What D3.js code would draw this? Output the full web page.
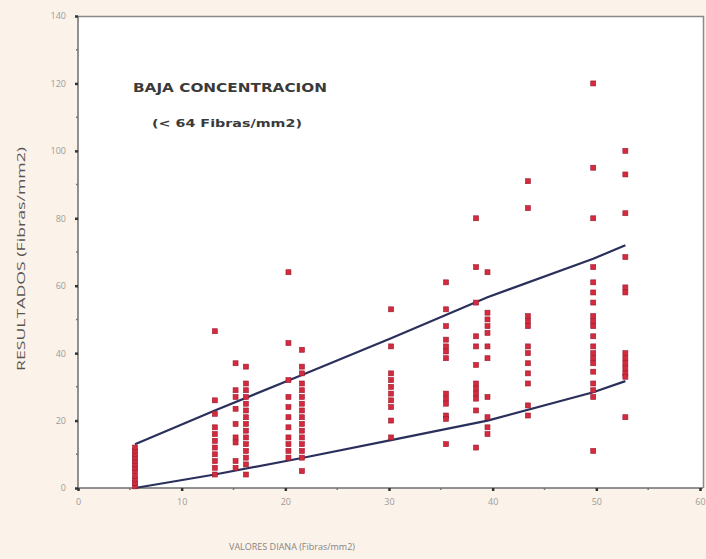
<!DOCTYPE html>
<html>
<head>
<meta charset="utf-8">
<script src="https://cdn.jsdelivr.net/npm/d3@7"></script>
<style>
  body { margin: 0; background: #fbf2ea; }
  svg { display: block; }
  .tick text { font-family: "Open Sans", sans-serif; font-size: 9px; fill: #a09a96; }
</style>
</head>
<body>
<div id="chart"></div>
<script>
// target values (x) of each column of results
var targets = [5.5, 13.2, 15.2, 16.2, 20.3, 21.6, 30.2, 35.5, 38.4, 39.5, 43.4, 49.7, 52.8];

// results read for each target, same order as targets
var results = [
  [0.5, 1.5, 2.5, 3.5, 5, 6, 7, 8, 9, 10, 11, 12],
  [46.5, 26, 22, 18, 16, 14, 12, 10, 8, 6, 4],
  [37, 29, 27, 23.5, 19, 15, 13.5, 8, 6],
  [36, 31, 29, 27, 25, 23, 21, 19, 17, 15, 13, 11, 9, 7, 4],
  [64, 43, 32, 27, 24, 21, 18, 15, 13, 11, 9],
  [41, 36, 34, 31, 29, 27, 25, 23, 21, 19, 17, 15, 13, 11, 9, 5],
  [53, 42, 34, 32, 30, 28, 26, 24, 20, 15],
  [61, 53, 48, 44, 42, 40.5, 38.5, 28, 26.5, 25, 21.5, 20.5, 13],
  [80, 65.5, 55, 45, 42, 36.5, 31, 29.5, 28, 26.5, 23, 12],
  [64, 52, 50, 48, 46, 42, 38.5, 27, 21, 18, 16],
  [91, 83, 51, 49.5, 48, 42, 40, 37, 34, 31, 24.5, 21.5],
  [120, 95, 80, 65.5, 61, 58, 55, 51, 49.5, 48, 45, 42, 40, 38.5, 37, 34.5, 31, 29, 27, 11],
  [100, 93, 81.5, 68.5, 59.5, 58, 40, 38.5, 37, 35.5, 34, 33, 21]
];

// acceptance limits read at some targets
var limitX = [5.5, 13.2, 21.6, 30.2, 39.5, 49.7, 52.8];
var upperLimit = [13, 23, 33.5, 44.4, 56.6, 68, 72];
var lowerLimit = [0, 4, 8.9, 14.2, 20, 28.4, 31.7];

var xTicks = [0, 10, 20, 30, 40, 50, 60];
var yTicks = [0, 20, 40, 60, 80, 100, 120, 140];

var svgWidth = 706;
var svgHeight = 559;

var svg = d3.select("#chart").append("svg").attr("width", svgWidth).attr("height", svgHeight);

var xScale = d3.scaleLinear().domain([0, 60]).range([78, 700]);
var yScale = d3.scaleLinear().domain([0, 140]).range([488, 16]);

// white plot area
svg.append("rect").attr("x", 78).attr("y", 16).attr("width", 626).attr("height", 472).attr("fill", "#ffffff");

// top and right frame
svg.append("path").attr("d", "M78,16.5H703.5V488").attr("fill", "none").attr("stroke", "#8a8a8a").attr("stroke-width", 1.5);

// axes
var bottomAxis = d3.axisBottom(xScale).tickValues(xTicks).tickSize(3).tickPadding(8);
var leftAxis = d3.axisLeft(yScale).tickValues(yTicks).tickSize(3).tickPadding(9);

var gx = svg.append("g").attr("transform", "translate(0, 488)").call(bottomAxis);
var gy = svg.append("g").attr("transform", "translate(78, 0)").call(leftAxis);

[gx, gy].forEach(function(g) {
  g.select(".domain").attr("d", g === gx ? "M78,0H703" : "M0,16V488").attr("stroke", "#6e6e6e").attr("stroke-width", 1.5);
  g.selectAll(".tick line").attr("stroke", "#333").attr("stroke-width", 2.5);
});

// minor ticks
svg.append("g").selectAll("line").data(d3.range(5, 60, 10)).enter().append("line")
  .attr("x1", d => xScale(d)).attr("x2", d => xScale(d)).attr("y1", 488).attr("y2", 490)
  .attr("stroke", "#777").attr("stroke-width", 1.5);
svg.append("g").selectAll("line").data(d3.range(10, 140, 20)).enter().append("line")
  .attr("y1", d => yScale(d)).attr("y2", d => yScale(d)).attr("x1", 76).attr("x2", 78)
  .attr("stroke", "#777").attr("stroke-width", 1.5);

// limit lines
var line = d3.line().x(d => xScale(d[0])).y(d => yScale(d[1]));
[upperLimit, lowerLimit].forEach(function(lim) {
  svg.append("path").datum(limitX.map((x, i) => [x, lim[i]]))
    .attr("d", line).attr("fill", "none").attr("stroke", "#2b2f5c").attr("stroke-width", 2.2);
});

// points
var points = [];
targets.forEach(function(t, i) {
  results[i].forEach(function(r) { points.push({ x: t, y: r }); });
});

svg.append("g").selectAll("rect").data(points).enter().append("rect")
  .attr("x", d => xScale(d.x) - 2.5).attr("y", d => yScale(d.y) - 2.5)
  .attr("width", 5).attr("height", 5)
  .attr("fill", "#d42a3c").attr("stroke", "#9b1d33").attr("stroke-width", 0.6);

// titles
svg.append("text").attr("x", 133).attr("y", 92).attr("font-family", "DejaVu Sans, sans-serif")
  .attr("font-size", 11.5).attr("font-weight", "bold").attr("fill", "#3a3a3a")
  .attr("textLength", 194).attr("lengthAdjust", "spacingAndGlyphs")
  .text("BAJA CONCENTRACION");
svg.append("text").attr("x", 152).attr("y", 127).attr("font-family", "DejaVu Sans, sans-serif")
  .attr("font-size", 10.5).attr("font-weight", "bold").attr("fill", "#3a3a3a")
  .attr("textLength", 150).attr("lengthAdjust", "spacingAndGlyphs")
  .text("(< 64 Fibras/mm2)");

// axis labels
svg.append("text").attr("transform", "translate(25, 259) rotate(-90)").attr("text-anchor", "middle")
  .attr("font-family", "Open Sans, sans-serif").attr("font-size", 11.5).attr("fill", "#5a5552")
  .attr("textLength", 224).attr("lengthAdjust", "spacingAndGlyphs")
  .text("RESULTADOS (Fibras/mm2)");
svg.append("text").attr("x", 292).attr("y", 550).attr("text-anchor", "middle")
  .attr("font-family", "Open Sans, sans-serif").attr("font-size", 9).attr("fill", "#8a8480")
  .text("VALORES DIANA (Fibras/mm2)");
</script>
</body>
</html>
